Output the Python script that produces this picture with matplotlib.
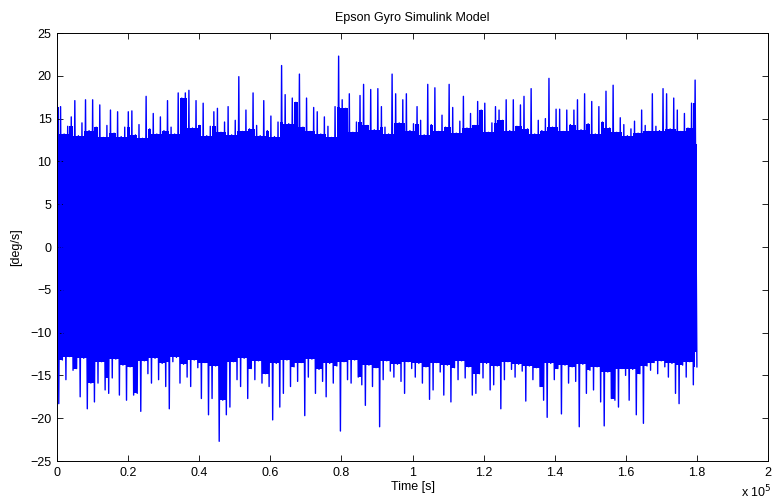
import matplotlib
matplotlib.use('Agg')
import matplotlib.pyplot as plt
from matplotlib.ticker import MultipleLocator, FuncFormatter
import numpy as np

plt.rcParams['font.family'] = ['Liberation Sans', 'DejaVu Sans']

t_end = 1.8e5
upper_peaks = [
    19.9, 16.4, 13.2, 14.1, 15.2, 17.1, 13.0, 14.5, 17.2, 13.6,
    17.2, 14.0, 16.6, 12.8, 14.2, 16.0, 13.3, 15.8, 12.9, 14.0,
    15.8, 15.9, 13.1, 14.3, 12.7, 17.6, 13.8, 15.6, 13.2, 15.2,
    13.6, 17.1, 14.0, 13.2, 18.0, 17.4, 18.0, 18.3, 13.9, 17.1,
    14.2, 16.8, 13.0, 14.1, 15.8, 16.2, 13.4, 14.6, 16.4, 13.1,
    14.8, 19.9, 13.5, 16.0, 13.8, 18.0, 14.2, 13.0, 17.1, 13.6,
    15.3, 12.9, 14.6, 21.2, 17.8, 14.4, 17.4, 16.9, 20.2, 14.0,
    17.4, 13.5, 16.3, 15.8, 13.2, 15.2, 14.1, 12.8, 16.4, 22.3,
    17.2, 16.2, 17.9, 13.4, 14.6, 17.7, 19.0, 14.2, 18.4, 13.7,
    18.5, 16.4, 14.0, 13.2, 20.2, 17.9, 14.5, 17.2, 17.9, 13.6,
    14.4, 16.4, 14.8, 13.1, 19.0, 14.3, 18.6, 13.5, 15.4, 14.0,
    19.0, 16.3, 13.3, 14.7, 17.6, 13.9, 15.6, 14.2, 17.0, 16.0,
    16.8, 13.4, 14.5, 16.4, 16.0, 14.8, 17.2, 13.6, 17.2, 14.1,
    16.6, 17.6, 13.8, 18.5, 13.2, 14.8, 13.6, 15.0, 19.7, 14.0,
    16.1, 16.1, 13.5, 16.0, 14.3, 16.0, 17.2, 13.7, 17.9, 14.4,
    17.0, 13.2, 16.4, 14.6, 18.2, 13.9, 18.9, 13.4, 15.1, 14.3,
    13.0, 13.8, 14.7, 13.3, 16.0, 14.2, 13.5, 17.9, 14.1, 13.6,
    18.5, 17.9, 13.8, 17.4, 16.0, 13.5, 15.6, 13.9, 16.8, 19.5,
]
lower_peaks = [
    -18.3, -13.2, -15.5, -12.8, -14.4, -14.2, -17.5, -13.0, -18.9, -15.9,
    -18.1, -15.9, -13.4, -16.7, -17.1, -15.3, -13.1, -17.3, -13.8, -17.9,
    -14.0, -17.3, -17.1, -19.2, -13.3, -14.8, -15.9, -13.0, -15.5, -13.6,
    -16.3, -18.9, -13.4, -12.9, -15.9, -13.7, -15.2, -16.3, -13.2, -14.1,
    -17.7, -13.5, -19.6, -17.7, -13.9, -22.7, -17.9, -19.6, -18.7, -13.4,
    -15.5, -16.3, -13.0, -17.7, -14.2, -15.5, -13.3, -15.9, -14.8, -16.3,
    -20.2, -13.6, -18.7, -17.1, -13.2, -16.3, -14.0, -15.7, -13.5, -19.7,
    -15.2, -13.1, -17.1, -14.3, -15.7, -17.5, -13.6, -15.9, -13.9, -21.5,
    -13.4, -15.5, -15.9, -13.2, -15.2, -16.1, -18.5, -13.8, -16.3, -14.1,
    -21.0, -15.5, -13.3, -14.5, -15.2, -13.7, -15.7, -17.1, -13.4, -14.2,
    -15.2, -13.6, -15.9, -14.0, -17.8, -16.7, -13.5, -14.6, -17.3, -13.8,
    -18.1, -14.1, -15.5, -13.3, -15.3, -14.0, -17.3, -17.1, -14.8, -15.3,
    -13.6, -16.7, -16.1, -13.9, -18.9, -15.5, -13.4, -14.3, -15.2, -13.7,
    -14.5, -18.0, -13.9, -15.5, -14.1, -16.3, -17.9, -19.9, -13.6, -15.5,
    -14.2, -19.5, -13.8, -15.9, -14.0, -15.7, -21.0, -13.7, -17.1, -14.4,
    -16.7, -14.0, -18.1, -20.9, -14.6, -17.7, -17.9, -18.7, -14.2, -15.0,
    -17.9, -14.3, -19.6, -14.8, -20.6, -13.9, -14.4, -13.5, -14.8, -13.3,
    -14.0, -15.2, -13.6, -17.1, -18.3, -13.8, -15.2, -13.4, -16.1, -14.0,
]
# solid core of the noise band
band_top = 12.0
band_bottom = -12.3

n = len(upper_peaks)
t = np.linspace(0, t_end, 2 * n)
rate = np.empty(2 * n)
rate[0::2] = upper_peaks
rate[1::2] = lower_peaks

# ragged shoulder of the band: the lower of each peak and its neighbours
up = np.array(upper_peaks)
lo = np.array(lower_peaks)
shoulder_hi = np.minimum(np.minimum(up, np.roll(up, 1)), np.roll(up, -1))
shoulder_lo = np.maximum(np.maximum(lo, np.roll(lo, 1)), np.roll(lo, -1))
t_pk = t[0::2]

fig = plt.figure(figsize=(7.72, 5.04), dpi=100)
ax = fig.add_axes([57 / 772, 1 - 461 / 504, 711 / 772, 428 / 504])

blue = '#0000ff'
ax.fill_between([0, t_end], band_bottom, band_top, color=blue, linewidth=0)
ax.fill_between(t_pk, shoulder_lo, shoulder_hi, step='mid', color=blue, linewidth=0)
ax.plot(t, rate, color=blue, linewidth=1.0)

ax.set_xlim(0, 2e5)
ax.set_ylim(-25, 25)
ax.xaxis.set_major_locator(MultipleLocator(0.2e5))
ax.yaxis.set_major_locator(MultipleLocator(5))
ax.xaxis.set_major_formatter(FuncFormatter(lambda v, p: f'{v / 1e5:g}'))

ax.tick_params(direction='in', length=4, width=0.6, labelsize=9,
               top=True, right=True, pad=4)
for s in ax.spines.values():
    s.set_linewidth(0.7)

ax.set_title('Epson Gyro Simulink Model', fontsize=9, pad=9)
ax.set_xlabel('Time [s]', fontsize=9, labelpad=2)
ax.set_ylabel('[deg/s]', fontsize=9, labelpad=6)
fig.text(741 / 772, 1 - 497 / 504, r'x 10$^{5}$', fontsize=9, va='baseline')

fig.savefig('out.png', dpi=100)
